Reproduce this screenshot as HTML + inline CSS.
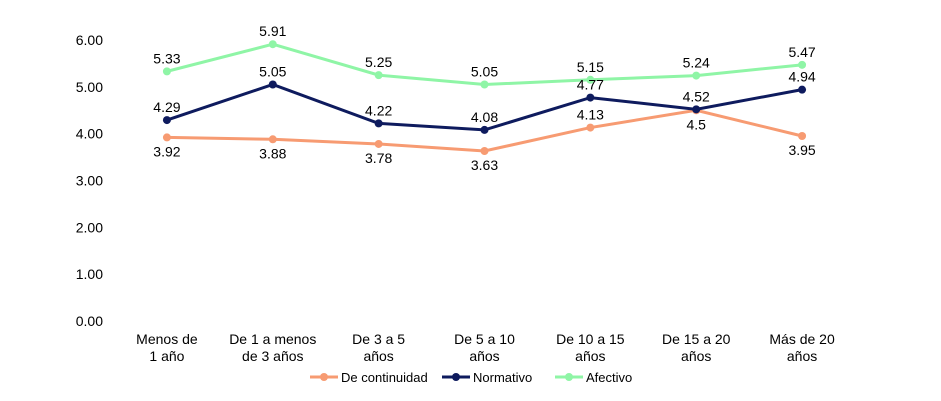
<!DOCTYPE html>
<html><head><meta charset="utf-8"><style>
body{margin:0;background:#fff;}
svg{display:block;font-family:"Liberation Sans",sans-serif;}
</style></head><body>
<svg id="chart" width="941" height="401"></svg>
<script>
const categories=[["Menos de","1 año"],["De 1 a menos","de 3 años"],["De 3 a 5","años"],["De 5 a 10","años"],["De 10 a 15","años"],["De 15 a 20","años"],["Más de 20","años"]];
const continuidad=[3.92,3.88,3.78,3.63,4.13,4.5,3.95];
const normativo=[4.29,5.05,4.22,4.08,4.77,4.52,4.94];
const afectivo=[5.33,5.91,5.25,5.05,5.15,5.24,5.47];
const yTicks=[0,1,2,3,4,5,6];
const seriesNames=["De continuidad","Normativo","Afectivo"];
const NS="http://www.w3.org/2000/svg";
const svg=document.getElementById('chart');
const x0=114,x1=855,y0=321,yTop=40;
function xs(i){return x0+(x1-x0)/categories.length*(i+0.5);}
function ys(v){return y0-(y0-yTop)*v/6;}
function mk(tag,attrs,parent){const e=document.createElementNS(NS,tag);for(const k in attrs)e.setAttribute(k,attrs[k]);(parent||svg).appendChild(e);return e;}
yTicks.forEach(t=>{const tx=mk('text',{x:103,y:ys(t)+5,'text-anchor':'end','font-size':14,fill:'#000'});tx.textContent=t.toFixed(2);

});
categories.forEach((c,i)=>{c.forEach((l,j)=>{const tx=mk('text',{x:xs(i),y:344+j*17,'text-anchor':'middle','font-size':14,fill:'#000'});tx.textContent=l;

});});
const colors=["#F79B72","#0E1B5E","#8FF5A6"];
const data=[continuidad,normativo,afectivo];
const labelPos=[[1,1,1,1,-1,1,1],[-1,-1,-1,-1,-1,-1,-1],[-1,-1,-1,-1,-1,-1,-1]];
data.forEach((d,s)=>{
 const g=mk('g',{});
 
 
 mk('polyline',{points:d.map((v,i)=>xs(i)+','+ys(v)).join(' '),fill:'none',stroke:colors[s],'stroke-width':3},g);
 d.forEach((v,i)=>{const c=mk('circle',{cx:xs(i),cy:ys(v),r:4,fill:colors[s]},g);
 
 });
});
data.forEach((d,s)=>{d.forEach((v,i)=>{const p=labelPos[s][i];const tx=mk('text',{x:xs(i),y:ys(v)+(p>0?19:-8),'text-anchor':'middle','font-size':14,fill:'#000'});tx.textContent=String(v);

});});
const lx=[310,442,555];
seriesNames.forEach((n,s)=>{const g=mk('g',{});


mk('line',{x1:lx[s],y1:377,x2:lx[s]+28,y2:377,stroke:colors[s],'stroke-width':3},g);
mk('circle',{cx:lx[s]+14,cy:377,r:4,fill:colors[s]},g);
const t=mk('text',{x:lx[s]+31,y:382,'font-size':13,fill:'#000'},g);t.textContent=n;});
</script>
</body></html>
